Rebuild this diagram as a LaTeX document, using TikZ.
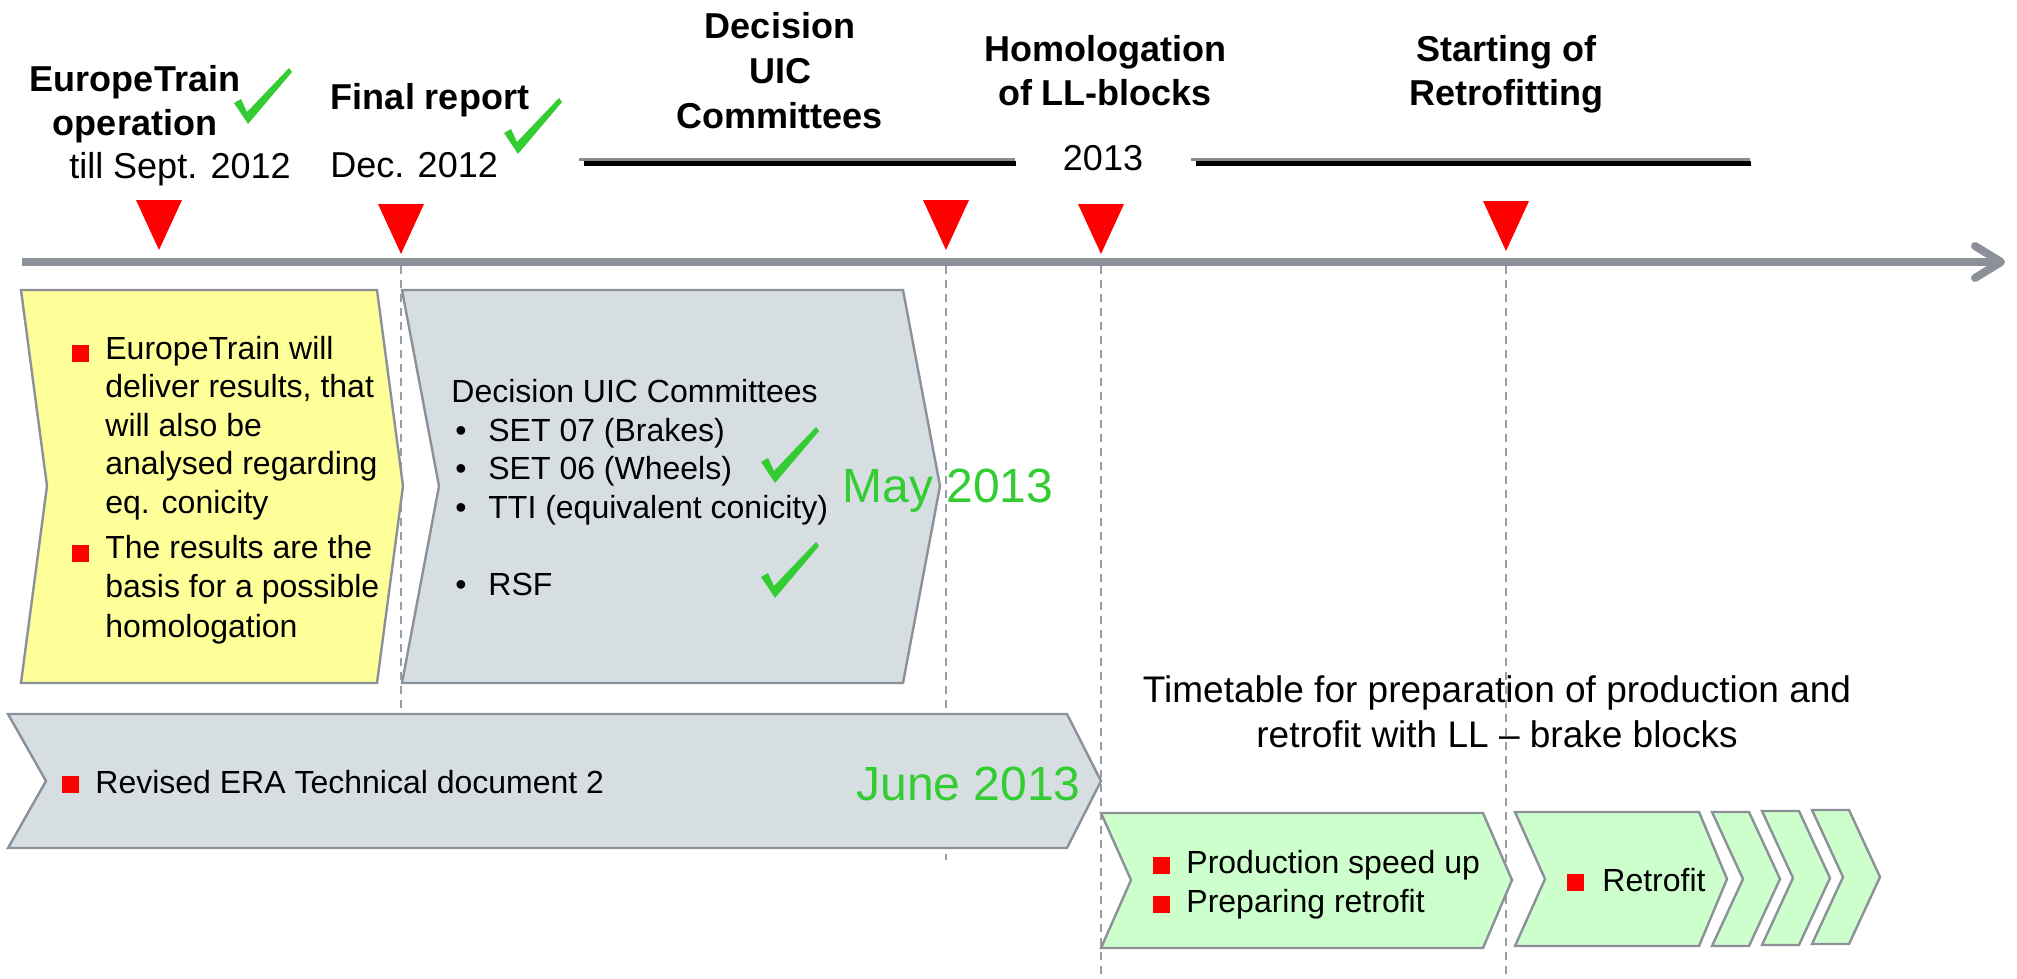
\documentclass[tikz,border=0pt]{standalone}
\usepackage{fontspec}
\setmainfont{Liberation Sans}
\usetikzlibrary{arrows.meta}
\definecolor{axisgrey}{HTML}{8C9099}
\definecolor{guidegrey}{HTML}{9A9DA3}
\definecolor{paleyellow}{HTML}{FFFF99}
\definecolor{palegrey}{HTML}{D7DEE2}
\definecolor{palegreen}{HTML}{CCFFCC}
\definecolor{okgreen}{HTML}{33CC33}
\definecolor{markred}{HTML}{FF0000}
\newcommand{\listdot}{\makebox[18.5pt][l]{\hspace{2pt}\textbullet}}

\begin{document}
\begin{tikzpicture}[
    x=0.5pt, y=-0.5pt,
    head/.style={font=\bfseries\fontsize{18}{22}\selectfont, align=center, inner sep=0pt, anchor=base},
    when/.style={font=\fontsize{18}{22}\selectfont, inner sep=0pt, anchor=base},
    body/.style={font=\fontsize{16}{19.25}\selectfont, align=left, inner sep=0pt, anchor=base west},
    due/.style={font=\fontsize{24}{28}\selectfont, text=okgreen, inner sep=0pt, anchor=base west},
    chevron/.style={draw=axisgrey, line width=1.2pt, fill=#1},
    guideline/.style={draw=guidegrey, line width=0.7pt, dash pattern=on 4pt off 3pt},
    milestone/.style={fill=markred},
    bullet/.style={fill=markred},
    okmark/.pic={\fill[okgreen] (0,35) -- (7,31) -- (13,44) -- (55,0) -- (58,4) -- (14,56) -- cycle;}
]
\useasboundingbox (0,0) rectangle (2017,979);

% guides from the milestones
\draw[guideline] (401,266) -- (401,714);
\draw[guideline] (946,266) -- (946,860);
\draw[guideline] (1101,266) -- (1101,975);
\draw[guideline] (1506,266) -- (1506,975);

% time axis
\draw[axisgrey, line width=4pt, -{Straight Barb[length=13pt,width=16pt,round]}] (22,262) -- (2005,262);
\foreach \mx/\my in {159/200, 401/204, 946/200, 1101/204, 1506/201}
  \fill[milestone] (\mx-23,\my) -- (\mx+23,\my) -- (\mx,\my+50) -- cycle;

% periods above the axis
\draw[black!45, line width=1.5pt] (579,159) -- (1015,159);
\draw[black, line width=2.5pt] (584,163.5) -- (1016,163.5);
\draw[black!45, line width=1.5pt] (1191,159) -- (1750,159);
\draw[black, line width=2.5pt] (1196,163.5) -- (1751,163.5);

% milestone labels (base = last line)
\node[head] (euro) at (135,135) {EuropeTrain\\operation};
\node[when] (euroDate) at (180,178) {till Sept. 2012};
\node[head] (report) at (430,110) {Final report};
\node[when, anchor=base west] (reportDate) at (330,177) {Dec. 2012};
\node[head, font=\bfseries\fontsize{18}{22.5}\selectfont] (uic) at (780,128) {Decision\\UIC\\Committees};
\node[head] (homol) at (1105,105) {Homologation\\of LL-blocks};
\node[head] (retro) at (1506,105) {Starting of\\Retrofitting};
\node[when] (year) at (1103,170) {2013};
\pic at (234,68) {okmark};
\pic at (504,98) {okmark};

% phases
\path[chevron=paleyellow] (21,290) -- (377,290) -- (403,486) -- (377,683) -- (21,683) -- (47,486) -- cycle;
\path[chevron=palegrey] (402,290) -- (903,290) -- (940,486) -- (903,683) -- (402,683) -- (439,486) -- cycle;
\path[chevron=palegrey] (8,714) -- (1067,714) -- (1101,781) -- (1067,848) -- (8,848) -- (46,781) -- cycle;
\path[chevron=palegreen] (1101,813) -- (1483,813) -- (1512,880) -- (1483,948) -- (1101,948) -- (1131,880) -- cycle;
\path[chevron=palegreen] (1515,812) -- (1699,812) -- (1727,879) -- (1699,946) -- (1515,946) -- (1545,879) -- cycle;
\foreach \cx/\cy in {1712/812, 1762/811, 1812/810}
  \path[chevron=palegreen] (\cx,\cy) -- (\cx+37,\cy) -- (\cx+68,\cy+67) -- (\cx+37,\cy+134) -- (\cx,\cy+134) -- (\cx+31,\cy+67) -- cycle;

% phase texts
\foreach \bx/\by in {72/345, 72/545, 62/776, 1153/857, 1153/896, 1567/874}
  \fill[bullet] (\bx,\by) rectangle ++(17,17);
\node[body] (etText) at (105,513) {EuropeTrain will\\deliver results, that\\will also be\\analysed regarding\\eq. conicity};
\node[body, font=\fontsize{16}{19.75}\selectfont] (basis) at (105,637) {The results are the\\basis for a possible\\homologation};
\node[body] (uicList) at (451,595) {Decision UIC Committees\\
  \listdot SET 07 (Brakes)\\
  \listdot SET 06 (Wheels)\\
  \listdot TTI (equivalent conicity)\\[19.25pt]
  \listdot RSF};
\pic at (761,427) {okmark};
\pic at (761,542) {okmark};
\node[due] (may) at (842,502) {May 2013};
\node[body] (era) at (95,793) {Revised ERA Technical document 2};
\node[due] (june) at (856,800) {June 2013};
\node[font=\fontsize{18.5}{22.5}\selectfont, align=center, anchor=base, inner sep=0pt] (plan) at (1497,747)
  {Timetable for preparation of production and\\retrofit with LL – brake blocks};
\node[body, font=\fontsize{16}{19.5}\selectfont] (prod) at (1186,912) {Production speed up\\Preparing retrofit};
\node[body] (retrofit) at (1602,891) {Retrofit};

\end{tikzpicture}
\end{document}
